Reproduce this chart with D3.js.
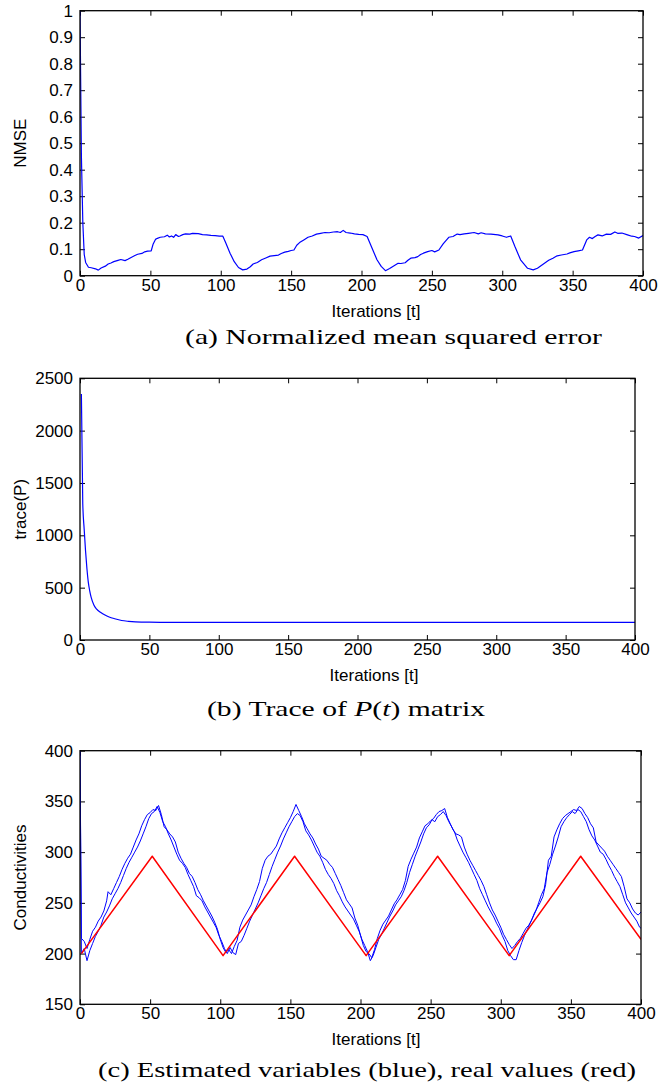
<!DOCTYPE html>
<html>
<head>
<meta charset="utf-8">
<script src="https://cdn.jsdelivr.net/npm/d3@7"></script>
<style>
  html, body { margin: 0; padding: 0; background: #ffffff; }
  svg { display: block; }
</style>
</head>
<body>
<script>
// ---------------- DATA ----------------
// Panel (a): NMSE
const nmseT = [0,1,2,3,4,6,8,11,13,15,18,20,22,24,27,29,32,34,36,39,41,44,46,48,50.6,52,53.6,55,57,60,62,63.5,65,66.5,68,70,71,73,75,78,80,84,87,90,93,96,99,101.5,103.6,106.6,109.6,112.6,115.6,118.6,121,123,126,129,132,135,138,141,143,145.5,148,150,152,154,156,159,162,165,168,171,174,177,180,183,185,187,189,192,195,198,201,204,207,211,214,217,220,222,226,228,231,233,235,238,240,242,244,247,250,252,255,258,262,265,268,270,273,276,280,283,285,288,292,297,300,303,306,309,313,318,322,325,330,333,336,339,342,346,348,351,354,357,360,362,364,366,368,371,374,377,380,382,385,389,392,394,397,400];
const nmseV = [1.0,0.45,0.2,0.08,0.05,0.032,0.03,0.026,0.021,0.029,0.036,0.044,0.048,0.053,0.058,0.061,0.057,0.062,0.068,0.076,0.081,0.084,0.09,0.093,0.094,0.12,0.137,0.141,0.145,0.147,0.153,0.146,0.15,0.145,0.155,0.148,0.15,0.155,0.158,0.157,0.16,0.159,0.155,0.154,0.152,0.151,0.149,0.149,0.123,0.085,0.053,0.031,0.022,0.025,0.034,0.044,0.05,0.06,0.067,0.074,0.076,0.078,0.084,0.089,0.092,0.095,0.097,0.115,0.125,0.135,0.145,0.15,0.157,0.16,0.163,0.162,0.165,0.166,0.163,0.171,0.163,0.161,0.158,0.156,0.155,0.148,0.11,0.06,0.035,0.019,0.027,0.034,0.047,0.046,0.049,0.058,0.066,0.068,0.072,0.08,0.085,0.091,0.095,0.09,0.097,0.12,0.145,0.148,0.157,0.155,0.158,0.16,0.163,0.158,0.162,0.158,0.157,0.154,0.15,0.145,0.15,0.11,0.06,0.028,0.022,0.028,0.047,0.058,0.066,0.075,0.078,0.082,0.086,0.091,0.094,0.097,0.135,0.145,0.14,0.148,0.154,0.15,0.157,0.156,0.165,0.16,0.161,0.154,0.149,0.148,0.142,0.152];
const nmseYTicks = [0,0.1,0.2,0.3,0.4,0.5,0.6,0.7,0.8,0.9,1];
const nmseYLabels = ["0","0.1","0.2","0.3","0.4","0.5","0.6","0.7","0.8","0.9","1"];

// Panel (b): trace(P)
const traceT = [1,2,3,4,5,6,7,8,10,12,15,18,21,25,30,35,40,45,50,60,80,100,150,200,250,300,350,400];
const traceV = [2350,1300,1060,850,680,550,470,410,335,295,262,238,220,203,186,178,173,171,170,169,168,168,168,168,168,168,168,168];
const traceYTicks = [0,500,1000,1500,2000,2500];
const traceYLabels = ["0","500","1000","1500","2000","2500"];

// Panel (c): conductivities
const realT = [1,51.5,102,153,204,255,306,357,400];
const realV = [200,296,198,296,198,296,198,296,214];

const estAT = [0,1,3,5,7,9,11,13,15,17,19,20,22,24,26,28,30,32,34,36,38,40,42,44,46,48,50,52,54,56,58,60,62,64,66,68,70,72,74,76,78,80,82,84,86,88,90,92,94,96,98,100,102,104,106,108,110,112,114,116,118,120,122,124,126,128,130,132,134,136,138,140,142,144,146,148,150,152,154,156,158,160,162,164,166,168,170,172,174,176,178,180,182,184,186,188,190,192,194,196,198,200,202,204,206,208,210,212,214,216,218,220,222,224,226,228,230,232,234,236,238,240,242,244,246,248,250,252,254,256,258,260,262,264,266,268,270,272,274,276,278,280,282,284,286,288,290,292,294,296,298,300,302,304,306,308,310,312,314,316,318,320,322,324,326,328,330,332,334,336,338,340,342,344,346,348,350,352,354,356,358,360,362,364,366,368,370,372,374,376,378,380,382,384,386,388,390,392,394,396,398,400];
const estAV = [400,215,212,205,214,222,226,232,236,242,252,261,258,264,270,276,283,289,294,298,305,312,318,326,332,337,339,342,341,346,337,325,322,318,315,310,300,294,289,285,279,276,270,263,258,252,247,242,237,231,224,214,206,201,204,200,207,213,226,233,238,243,248,256,263,271,284,292,296,298,302,306,313,319,324,329,334,340,347,341,335,328,323,318,314,308,303,296,294,292,288,285,279,273,267,260,253,249,245,235,228,218,208,202,200,196,204,215,223,229,233,237,243,249,253,258,263,272,286,293,299,305,314,320,326,328,331,333,337,340,341,343,334,328,322,318,317,315,305,298,292,287,282,277,272,266,258,250,243,238,232,226,219,214,209,205,208,212,215,220,225,228,233,240,245,250,256,268,292,296,315,322,328,333,336,338,340,342,341,345,343,338,334,328,324,310,307,304,301,296,292,288,284,280,276,266,254,250,244,240,238,241];

const estBT = [0,1,3,5,7,9,11,13,15,17,19,21,23,25,27,29,31,33,35,37,39,41,43,45,47,49,51,53,55,57,59,61,63,65,67,69,71,73,75,77,79,81,83,85,87,89,91,93,95,97,99,101,103,105,107,109,111,113,115,117,119,121,123,125,127,129,131,133,135,137,139,141,143,145,147,149,151,153,155,157,159,161,163,165,167,169,171,173,175,177,179,181,183,185,187,189,191,193,195,197,199,201,203,205,207,209,211,213,215,217,219,221,223,225,227,229,231,233,235,237,239,241,243,245,247,249,251,253,255,257,259,261,263,265,267,269,271,273,275,277,279,281,283,285,287,289,291,293,295,297,299,301,303,305,307,309,311,313,315,317,319,321,323,325,327,329,331,333,335,337,339,341,343,345,347,349,351,353,355,357,359,361,363,365,367,369,371,373,375,377,379,381,383,385,387,389,391,393,395,397,399,400];
const estBV = [400,200,205,193,203,210,217,222,228,236,241,247,254,259,264,270,277,284,290,295,300,305,311,318,325,333,338,340,345,339,330,325,318,312,305,298,292,289,285,278,272,266,257,255,252,246,241,236,231,226,218,212,205,200,206,201,199,210,212,218,225,232,238,244,250,257,264,270,278,286,293,300,306,313,319,325,330,335,338,336,330,321,317,312,306,300,296,290,283,278,274,269,262,257,251,246,242,238,234,228,222,214,208,202,193,198,206,214,219,225,231,237,242,248,252,256,262,270,280,288,296,303,310,318,324,327,332,330,335,337,340,336,330,325,320,312,306,300,295,290,284,278,272,264,258,252,246,241,236,230,225,218,212,203,198,194,194,203,211,218,224,230,236,242,250,258,264,280,288,298,306,315,325,330,334,337,340,338,342,340,335,330,322,316,312,306,300,298,293,287,282,276,271,266,258,250,245,240,236,232,226,225];
const condYTicks = [150,200,250,300,350,400];
const condYLabels = ["150","200","250","300","350","400"];

const xTicks = [0,50,100,150,200,250,300,350,400];
const xLabels = ["0","50","100","150","200","250","300","350","400"];

// ---------------- DRAWING ----------------
const W = 663, H = 1090;
const svg = d3.select("body").append("svg").attr("width", W).attr("height", H);
svg.append("rect").attr("width", W).attr("height", H).attr("fill", "#fff");

const sansFont = "'Liberation Sans', Arial, Helvetica, sans-serif";
const serifFont = "'Liberation Serif', 'Times New Roman', serif";

function panel(cfg) {
  const x = d3.scaleLinear().domain([0, 400]).range([cfg.left, cfg.right]);
  const y = d3.scaleLinear().domain(cfg.yDomain).range([cfg.bottom, cfg.top]);
  const g = svg.append("g");

  const styleAxis = sel => {
    sel.select(".domain").remove();
    sel.selectAll(".tick line").attr("stroke", "#000").attr("stroke-width", 1);
    sel.selectAll(".tick text").attr("fill", "#000").attr("font-family", sansFont).attr("font-size", 17);
  };

  g.append("g").attr("transform", `translate(0,${cfg.bottom})`)
    .call(d3.axisBottom(x).tickValues(xTicks).tickFormat((d, i) => xLabels[i]).tickSize(-5).tickPadding(3))
    .call(styleAxis);
  g.append("g").attr("transform", `translate(0,${cfg.top})`)
    .call(d3.axisTop(x).tickValues(xTicks).tickFormat("").tickSize(-5))
    .call(styleAxis);
  g.append("g").attr("transform", `translate(${cfg.left},0)`)
    .call(d3.axisLeft(y).tickValues(cfg.yTicks).tickFormat((d, i) => cfg.yLabels[i]).tickSize(-5).tickPadding(7))
    .call(styleAxis);
  g.append("g").attr("transform", `translate(${cfg.right},0)`)
    .call(d3.axisRight(y).tickValues(cfg.yTicks).tickFormat("").tickSize(-5))
    .call(styleAxis);

  const clipId = "clip" + cfg.id;
  svg.append("clipPath").attr("id", clipId).append("rect")
    .attr("x", cfg.left).attr("y", cfg.top - 1)
    .attr("width", cfg.right - cfg.left).attr("height", cfg.bottom - cfg.top + 2);

  const lines = g.append("g").attr("clip-path", `url(#${clipId})`);
  cfg.series.forEach(s => {
    const pts = s.t.map((t, i) => [t, s.v[i]]);
    lines.append("path")
      .attr("d", d3.line().x(d => x(d[0])).y(d => y(d[1])).curve(s.curve || d3.curveLinear)(pts))
      .attr("fill", "none").attr("stroke", s.color).attr("stroke-width", s.width)
      .attr("stroke-linejoin", "round");
  });

  g.append("rect").attr("x", cfg.left).attr("y", cfg.top)
    .attr("width", cfg.right - cfg.left).attr("height", cfg.bottom - cfg.top)
    .attr("fill", "none").attr("stroke", "#000").attr("stroke-width", 1.3);

  // axis labels
  g.append("text").attr("x", cfg.xLabelX).attr("y", cfg.bottom + 41)
    .attr("text-anchor", "middle").attr("font-family", sansFont).attr("font-size", 17)
    .text("Iterations [t]");
  g.append("text").attr("transform", `translate(26,${(cfg.top + cfg.bottom) / 2}) rotate(-90)`)
    .attr("text-anchor", "middle").attr("font-family", sansFont).attr("font-size", 17)
    .text(cfg.yLabel);

  // caption
  const cap = svg.append("text").attr("x", cfg.capX0).attr("y", cfg.capY)
    .attr("font-family", serifFont).attr("font-size", 21)
    .attr("textLength", cfg.capW).attr("lengthAdjust", "spacingAndGlyphs");
  cfg.caption.forEach(p => {
    const ts = cap.append("tspan").text(p.s);
    if (p.i) ts.attr("font-style", "italic");
  });
}

panel({
  id: "a", left: 80, right: 643, top: 10.7, bottom: 275.7,
  yDomain: [0, 1], yTicks: nmseYTicks, yLabels: nmseYLabels, yLabel: "NMSE",
  xLabelX: 376,
  series: [{ t: nmseT, v: nmseV, color: "#0000ff", width: 1.2 }],
  caption: [{ s: "(a) Normalized mean squared error" }],
  capX0: 185, capW: 417, capY: 344
});

panel({
  id: "b", left: 80, right: 635, top: 378.3, bottom: 640,
  yDomain: [0, 2500], yTicks: traceYTicks, yLabels: traceYLabels, yLabel: "trace(P)",
  xLabelX: 374,
  series: [{ t: traceT, v: traceV, color: "#0000ff", width: 1.2, curve: d3.curveMonotoneX }],
  caption: [{ s: "(b) Trace of " }, { s: "P", i: true }, { s: "(" }, { s: "t", i: true }, { s: ") matrix" }],
  capX0: 207, capW: 278, capY: 716
});

panel({
  id: "c", left: 80, right: 641, top: 750.7, bottom: 1004.3,
  yDomain: [150, 400], yTicks: condYTicks, yLabels: condYLabels, yLabel: "Conductivities",
  xLabelX: 376,
  series: [
    { t: estAT, v: estAV, color: "#0000ff", width: 1 },
    { t: estBT, v: estBV, color: "#0000ff", width: 1 },
    { t: realT, v: realV, color: "#ff0000", width: 1.5 }
  ],
  caption: [{ s: "(c) Estimated variables (blue), real values (red)" }],
  capX0: 98, capW: 538, capY: 1077
});
</script>
</body>
</html>
